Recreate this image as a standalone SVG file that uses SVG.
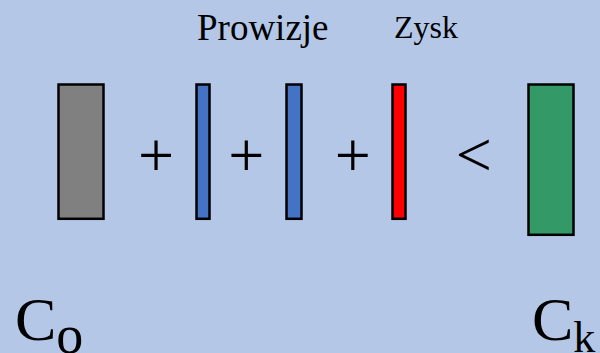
<svg xmlns="http://www.w3.org/2000/svg" width="600" height="353" viewBox="0 0 600 353">
<style>
.bar{stroke:#000;stroke-width:2.5}
.t{font-family:"Liberation Serif","Times New Roman",serif;fill:#000}
.op{font-family:"Liberation Serif","Times New Roman",serif;font-size:64px;text-anchor:middle;fill:#000}
</style>
<rect x="0" y="0" width="600" height="353" fill="#B4C7E7"/>
<g id="capital-start"><rect class="bar" x="58.5" y="84.5" width="45" height="134.3" fill="#808080"/></g>
<g id="prowizja-1"><rect class="bar" x="196.5" y="84.5" width="13" height="134.3" fill="#4472C4"/></g>
<g id="prowizja-2"><rect class="bar" x="286.5" y="84.5" width="15" height="134.3" fill="#4472C4"/></g>
<g id="zysk"><rect class="bar" x="392.5" y="84.5" width="13" height="134.3" fill="#FF0000"/></g>
<g id="capital-end"><rect class="bar" x="528.5" y="84.5" width="45" height="150.3" fill="#339966"/></g>
<g id="operators">
<text class="op" x="156" y="176.5">+</text>
<text class="op" x="246.3" y="176.5">+</text>
<text class="op" x="352.7" y="176.5">+</text>
<text class="op" x="473.7" y="176">&lt;</text>
</g>
<g id="labels">
<text class="t" x="197" y="40" font-size="37">Prowizje</text>
<text class="t" x="394" y="38" font-size="32">Zysk</text>
<text class="t" x="15" y="340" font-size="62">C<tspan font-size="54" dy="13">o</tspan></text>
<text class="t" x="532" y="340" font-size="62">C<tspan font-size="44" dy="12">k</tspan></text>
</g>
</svg>
